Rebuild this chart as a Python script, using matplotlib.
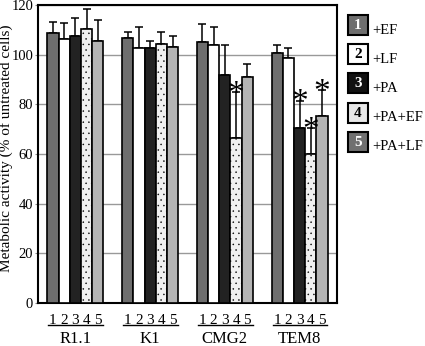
import matplotlib.pyplot as plt
import matplotlib.transforms as mtransforms
from matplotlib.patches import Rectangle
import numpy as np

plt.rcParams["font.family"] = ["Liberation Serif", "DejaVu Serif"]
plt.rcParams["hatch.color"] = "#d2d2d2"
plt.rcParams["hatch.linewidth"] = 0.3

groups = ["R1.1", "K1", "CMG2", "TEM8"]
treatments = ["+EF", "+LF", "+PA", "+PA+EF", "+PA+LF"]
bar_numbers = ["1", "2", "3", "4", "5"]

# mean metabolic activity, one row per cell line, columns = treatments 1..5
means = [
    [108.7, 106.3, 107.5, 110.3, 105.5],
    [106.9, 102.8, 102.8, 104.2, 103.2],
    [105.2, 103.7, 91.8, 66.3, 91.1],
    [100.5, 98.8, 70.3, 60.0, 75.4],
]
# upper end of each error bar
err_top = [
    [113.3, 112.9, 114.6, 118.3, 114.0],
    [109.0, 111.3, 105.6, 109.3, 107.5],
    [112.4, 111.3, 103.9, 85.0, 96.3],
    [103.9, 102.8, 81.5, 70.5, 85.8],
]
# asterisk marks: (group, treatment index)
significant = [(2, 3), (3, 2), (3, 3), (3, 4)]

colors = ["#6e6e6e", "#ffffff", "#222222", "#f0f0f0", "#b4b4b4"]
hatches = [None, None, None, "...", None]
legend_colors = ["#6e6e6e", "#ffffff", "#111111", "#e8e8e8", "#707070"]
legend_text = ["white", "black", "white", "black", "white"]

fig = plt.figure(figsize=(4.25, 3.46), dpi=100)
ax = fig.add_axes([38 / 425, 1 - 303 / 346, 299 / 425, 298 / 346])

width = 0.15
means = np.array(means)
err_top = np.array(err_top)
centers = np.arange(len(groups))

for j in range(len(treatments)):
    x = centers + (j - 2) * width
    ax.bar(x, means[:, j], width=width, color=colors[j], edgecolor="black",
           linewidth=1.2, hatch=hatches[j], zorder=3)
    ax.errorbar(x, means[:, j], yerr=[np.zeros(len(groups)), err_top[:, j] - means[:, j]],
                fmt="none", ecolor="black", elinewidth=1.1, capsize=3, capthick=1.1, zorder=2)

for g, j in significant:
    x = centers[g] + (j - 2) * width
    ax.text(x, err_top[g, j] - 1.0, "*", ha="center", va="center", fontsize=24,
            color="black", zorder=4)

ax.set_xlim(-0.5, 3.5)
ax.set_ylim(0, 120)
ax.set_yticks(np.arange(0, 121, 20))
ax.yaxis.grid(True, color="#999999", linewidth=1.0, zorder=0)
ax.set_axisbelow(True)
ax.tick_params(axis="y", labelsize=10.5, length=2.5, pad=1, direction="out", color="#888888")

all_x = [c + (j - 2) * width for c in centers for j in range(5)]
ax.set_xticks(all_x)
ax.set_xticklabels(bar_numbers * len(groups), fontsize=11)
ax.tick_params(axis="x", length=0, pad=8)

trans = mtransforms.blended_transform_factory(ax.transData, ax.transAxes)
for c, name in zip(centers, groups):
    ax.plot([c - 0.36, c + 0.37], [-0.075, -0.075], transform=trans, color="black",
            linewidth=1.0, clip_on=False)
    ax.text(c, -0.12, name, transform=trans, ha="center", va="center", fontsize=12)

for s in ax.spines.values():
    s.set_linewidth(1.5)

fig.text(6 / 425, 1 - 148 / 346, "Metabolic activity (% of untreated cells)",
         rotation=90, ha="center", va="center", fontsize=11)

# legend drawn in pixel coordinates of the figure
lax = fig.add_axes([0, 0, 1, 1])
lax.set_xlim(0, 425)
lax.set_ylim(346, 0)
lax.axis("off")
for k, lab in enumerate(treatments):
    top = 15 + k * 29.2
    lax.add_patch(Rectangle((348, top), 20, 20, facecolor=legend_colors[k],
                            edgecolor="black", linewidth=1.5))
    lax.text(358, top + 10.5, bar_numbers[k], ha="center", va="center", fontsize=11,
             fontweight="bold", color=legend_text[k])
    lax.text(372, top + 15, lab, ha="left", va="center", fontsize=10.5)

fig.savefig("out.png", dpi=100)
